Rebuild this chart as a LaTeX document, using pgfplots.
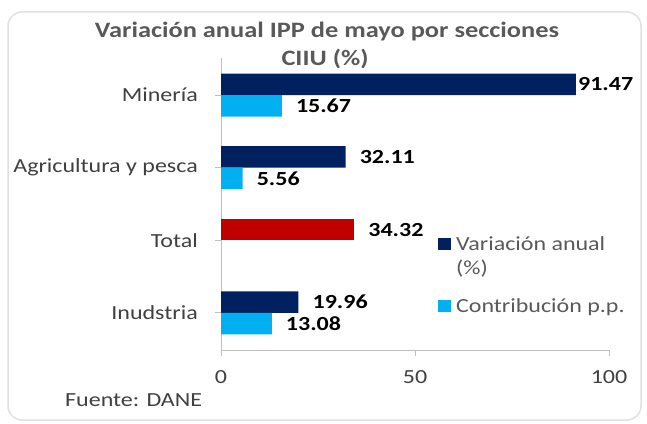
\documentclass[border=0pt]{standalone}
\usepackage{fontspec}
\setmainfont{Carlito}[FakeStretch=1.2]
\usepackage{pgfplots}
\usepackage{pgfplotstable}
\pgfplotsset{compat=1.18}
\definecolor{navyb}{HTML}{002060}
\definecolor{lightb}{HTML}{00B0F0}
\definecolor{redb}{HTML}{C00000}
\definecolor{titlegray}{HTML}{595959}
\definecolor{labgray}{HTML}{404040}
\definecolor{axgray}{HTML}{BFBFBF}
\pgfplotstableread{
y x gap
3 91.47 2
2 32.11 14
0 19.96 14
}\navytab
\pgfplotstableread{
y x gap
3 15.67 14
2 5.56 14
0 13.08 14
}\lighttab
\pgfplotstableread{
y x gap
1 34.32 14
}\redtab
\begin{document}
\begin{tikzpicture}
\useasboundingbox (0pt,0pt) rectangle (647pt,423pt);
\draw[color=black!12, line width=1.5pt, rounded corners=14pt] (8pt,3pt) rectangle (641pt,411pt);
\node[font=\fontsize{22}{26}\selectfont\bfseries, text=titlegray] at (327pt,391pt) {Variación anual IPP de mayo por secciones};
\node[font=\fontsize{22}{26}\selectfont\bfseries, text=titlegray] at (325pt,364pt) {CIIU (\%)};
\node[font=\fontsize{20}{24}\selectfont, text=labgray, anchor=west, inner sep=0pt] at (65pt,23pt) {Fuente: DANE};
\begin{axis}[
  at={(221pt,73pt)}, anchor=south west,
  scale only axis, width=388pt, height=292pt,
  xmin=0, xmax=100, ymin=-0.51, ymax=3.51,
  axis lines=left, axis line style={-, draw=axgray, line width=1pt},
  tick align=outside, major tick length=6pt,
  tick style={draw=axgray, line width=1pt},
  xtick={0,50,100}, ytick={0,1,2,3},
  yticklabels={Inudstria,Total,Agricultura y pesca,Minería},
  /pgf/number format/assume math mode=true,
  tick label style={font=\fontsize{20}{24}\selectfont, text=labgray, inner sep=0pt},
  yticklabel style={anchor=east, xshift=-17pt},
  xticklabel style={anchor=north, yshift=-14pt},
  xbar, bar width=0.295,
  clip=false,
  nodes near coords={\pgfmathprintnumber[fixed,fixed zerofill,precision=2]{\pgfplotspointmeta}},
  visualization depends on={\thisrow{gap} \as \gap},
  nodes near coords style={font=\fontsize{20}{24}\selectfont\bfseries, text=black, anchor=west, inner sep=0pt, xshift=\gap pt},
  legend cell align=left,
  legend style={draw=none, fill=none, inner sep=0pt, at={(0.559,0.390)}, anchor=north west,
    nodes={align=left, inner sep=0pt, text=titlegray, font=\fontsize{20}{24}\selectfont},
    row sep=23pt,
    /tikz/every odd column/.append style={column sep=5pt}},
]
\addplot[fill=navyb, draw=none, bar shift=0.148,
  legend image code/.code={\fill[navyb] (0pt,6.5pt) rectangle (13pt,18.5pt);}]
  table[x=x, y=y] {\navytab};
\addlegendentry{Variación anual\\(\%)}
\addplot[fill=lightb, draw=none, bar shift=-0.148,
  legend image code/.code={\fill[lightb] (0pt,-6pt) rectangle (13pt,6pt);}]
  table[x=x, y=y] {\lighttab};
\addlegendentry{Contribución p.p.}
\addplot[fill=redb, draw=none, bar shift=0.148, forget plot]
  table[x=x, y=y] {\redtab};
\end{axis}
\end{tikzpicture}
\end{document}
